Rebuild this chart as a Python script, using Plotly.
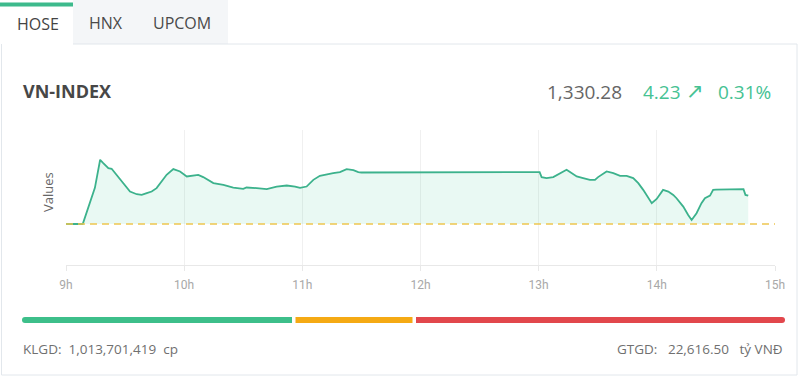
import plotly.graph_objects as go

# ---------------- data ----------------
DAY = "2024-01-01 "
times = [
    "09:00:00", "09:08:30", "09:14:40", "09:17:20", "09:18:55", "09:21:30", "09:23:10",
    "09:24:55", "09:27:25", "09:30:00", "09:32:30", "09:35:55", "09:38:25", "09:41:00",
    "09:43:30", "09:46:00", "09:48:35", "09:51:05", "09:54:30", "09:57:55", "10:01:20",
    "10:04:35", "10:07:10", "10:09:40", "10:14:50", "10:19:55", "10:24:55", "10:30:00",
    "10:31:40", "10:36:50", "10:41:55", "10:47:00", "10:52:05", "10:56:20", "10:58:50",
    "11:02:10", "11:05:35", "11:08:55", "11:12:25", "11:15:40", "11:19:05", "11:22:30",
    "11:25:55", "11:28:25", "11:30:00",
    "13:00:00", "13:00:30", "13:01:30", "13:04:00", "13:07:25", "13:10:50", "13:14:10",
    "13:15:55", "13:19:20", "13:22:35", "13:26:00", "13:28:35", "13:30:10", "13:34:30",
    "13:37:55", "13:41:20", "13:44:40", "13:48:00", "13:50:35", "13:53:05", "13:57:25",
    "13:59:55", "14:03:10", "14:05:50", "14:08:20", "14:10:00", "14:13:25", "14:15:55",
    "14:17:40", "14:20:10", "14:22:40", "14:24:25", "14:27:00", "14:28:35", "14:30:00",
    "14:44:00", "14:45:00", "14:46:25",
]
values = [
    1326.05, 1326.05, 1331.45, 1335.65, 1335.16, 1334.41, 1334.30,
    1333.66, 1332.65, 1331.65, 1330.90, 1330.50, 1330.40, 1330.66,
    1330.90, 1331.41, 1332.40, 1333.40, 1334.26, 1333.90, 1333.15,
    1333.25, 1333.40, 1333.06, 1332.16, 1331.90, 1331.50, 1331.30,
    1331.50, 1331.41, 1331.26, 1331.65, 1331.80, 1331.65, 1331.45,
    1331.65, 1332.65, 1333.25, 1333.51, 1333.66, 1333.81, 1334.26,
    1334.11, 1333.81, 1333.75,
    1333.70, 1333.81, 1333.06, 1332.91, 1333.06, 1333.66, 1334.15,
    1333.81, 1333.15, 1332.91, 1332.65, 1332.65, 1333.06, 1333.90,
    1333.66, 1333.25, 1333.25, 1332.91, 1332.16, 1331.15, 1329.16,
    1329.80, 1331.15, 1330.90, 1330.40, 1329.90, 1328.65, 1327.40,
    1326.65, 1327.66, 1329.16, 1329.90, 1330.30, 1331.15, 1331.20,
    1331.26, 1330.40, 1330.28,
]
reference = 1326.05
tick_hours = [9, 10, 11, 12, 13, 14, 15]
tick_labels = ["9h", "10h", "11h", "12h", "13h", "14h", "15h"]
tabs = ["HOSE", "HNX", "UPCOM"]
index_name = "VN-INDEX"
last_value = "1,330.28"
change = "4.23"
change_pct = "0.31%"
breadth_parts = [270, 117, 369]   # advancers / unchanged / decliners (bar lengths)
klgd = "1,013,701,419"
gtgd = "22,616.50"

# ---------------- layout geometry ----------------
W, H = 808, 390
L, R, T, B = 66, 775, 130, 265


def px(x):
    return (x - L) / (R - L)


def py(y):
    return (B - y) / (B - T)


xs = [DAY + t for t in times]
LINE = "#3cb28c"
FILL = "rgba(70, 205, 155, 0.12)"

fig = go.Figure()
fig.add_trace(go.Scatter(x=xs, y=[reference] * len(xs), mode="lines",
                         line=dict(width=0, color="rgba(0,0,0,0)"),
                         hoverinfo="skip", showlegend=False))
fig.add_trace(go.Scatter(x=xs, y=values, mode="lines", fill="tonexty",
                         fillcolor=FILL, line=dict(color=LINE, width=1.8),
                         hoverinfo="skip", showlegend=False))
fig.add_trace(go.Scatter(x=[DAY + "09:00:00", DAY + "15:00:00"], y=[reference, reference],
                         mode="lines", line=dict(color="#eec650", width=1.6, dash="7px,5px"),
                         hoverinfo="skip", showlegend=False))

shapes = []
# tabs
shapes.append(dict(type="rect", xref="paper", yref="paper", x0=px(73), x1=px(228),
                   y0=py(44), y1=py(0), fillcolor="#f4f6f8", line=dict(width=0), layer="below"))
shapes.append(dict(type="rect", xref="paper", yref="paper", x0=px(0), x1=px(73),
                   y0=py(6.5), y1=py(2.5), fillcolor="#3dba8c", line=dict(width=0)))
# card borders
bc = "#e2e7ec"
shapes.append(dict(type="line", xref="paper", yref="paper", x0=px(73), x1=px(797),
                   y0=py(44), y1=py(44), line=dict(color=bc, width=1)))
shapes.append(dict(type="line", xref="paper", yref="paper", x0=px(1.5), x1=px(1.5),
                   y0=py(44), y1=py(375), line=dict(color=bc, width=1)))
shapes.append(dict(type="line", xref="paper", yref="paper", x0=px(797), x1=px(797),
                   y0=py(44), y1=py(375), line=dict(color=bc, width=1)))
shapes.append(dict(type="line", xref="paper", yref="paper", x0=px(1.5), x1=px(797),
                   y0=py(375), y1=py(375), line=dict(color=bc, width=1)))

# breadth bar
bar_colors = ["#3dbf8a", "#f5aa14", "#e2474c"]
bx0, bx1, gap = 22, 785, 3.5
total = sum(breadth_parts)
span = bx1 - bx0 - gap * (len(breadth_parts) - 1)
cur = bx0
yb0, yb1 = 317, 323
for i, (v, c) in enumerate(zip(breadth_parts, bar_colors)):
    w = span * v / total
    a, b = cur, cur + w
    if i == 0:
        shapes.append(dict(type="circle", xref="paper", yref="paper", x0=px(a), x1=px(a + 6),
                           y0=py(yb1), y1=py(yb0), fillcolor=c, line=dict(width=0)))
        a += 3
    if i == len(breadth_parts) - 1:
        shapes.append(dict(type="circle", xref="paper", yref="paper", x0=px(b - 6), x1=px(b),
                           y0=py(yb1), y1=py(yb0), fillcolor=c, line=dict(width=0)))
        b -= 3
    shapes.append(dict(type="rect", xref="paper", yref="paper", x0=px(a), x1=px(b),
                       y0=py(yb1), y1=py(yb0), fillcolor=c, line=dict(width=0)))
    cur += w + gap

FONT = "Open Sans, Noto Sans, sans-serif"
NB = "\u00a0"


def ann(text, x, y, size, color, xanchor="left", bold=False, angle=0, family=FONT):
    return dict(text=("<b>%s</b>" % text) if bold else text, x=px(x), y=py(y),
                xref="paper", yref="paper", xanchor=xanchor, yanchor="middle",
                showarrow=False, textangle=angle,
                font=dict(family=family, size=size, color=color))


annotations = [
    ann(tabs[0], 37.5, 24, 16, "#444444", "center"),
    ann(tabs[1], 105.5, 23, 16, "#4a4a4a", "center"),
    ann(tabs[2], 182, 23, 16, "#4a4a4a", "center"),
    ann(index_name, 21, 91, 18, "#474747", bold=True),
    ann(last_value, 545, 92, 19, "#666666"),
    ann(change, 641, 92, 19, "#46c293"),
    ann("\u2197", 684, 91, 21, "#46c293", family="DejaVu Sans, sans-serif"),
    ann(change_pct, 716, 92, 19, "#46c293"),
    ann("Values", 48, 192, 13, "#666666", "center", angle=-90),
    ann("KLGD:" + NB + NB + klgd + NB + NB + "cp", 21, 349, 13.5, "#707070"),
    ann("GTGD:" + NB + NB + NB + gtgd + NB + NB + NB + "tỷ VNĐ", 785, 349, 13.5, "#707070", "right"),
]

fig.update_layout(
    width=W, height=H,
    margin=dict(l=L, r=W - R, t=T, b=H - B, pad=0),
    paper_bgcolor="white", plot_bgcolor="white",
    showlegend=False,
    shapes=shapes,
    annotations=annotations,
    xaxis=dict(
        type="date",
        range=[DAY + "09:00:00", DAY + "15:00:00"],
        tickvals=[DAY + "%02d:00:00" % h for h in tick_hours],
        ticktext=tick_labels,
        showgrid=True, gridcolor="#f0f0f0", gridwidth=1,
        showline=True, linecolor="#e8e8e8", linewidth=1,
        ticks="outside", ticklen=5, tickcolor="#e8e8e8",
        tickfont=dict(family="Liberation Sans Narrow, Arial Narrow, Roboto, sans-serif",
                      size=12, color="#a8a8a8"),
        ticklabelstandoff=4,
        zeroline=False, fixedrange=True,
    ),
    yaxis=dict(
        range=[1319.92, 1340.10],
        showgrid=False, showticklabels=False, zeroline=False, showline=False,
        fixedrange=True,
    ),
)

fig.write_html("out.html")
